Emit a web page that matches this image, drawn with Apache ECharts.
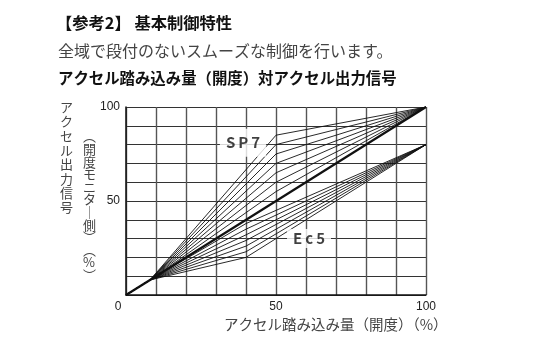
<!DOCTYPE html>
<html>
<head>
<meta charset="utf-8">
<script src="https://cdn.jsdelivr.net/npm/echarts@6/dist/echarts.min.js"></script>
<style>
  html, body { margin: 0; padding: 0; background: #fff; }
  #main { width: 537px; height: 341px; }
</style>
</head>
<body>
<div id="main"></div>
<script>
// 共通の立ち上がり点と終点
var fanPoint = [8, 8];
var linearEnd = [100, 100];

// SP7: 折れ点 x=50、終点 (100,100)
var sp7KneeX = 50;
var sp7KneeY = [55, 60, 65, 70, 75, 80, 85];
var sp7End = [100, 100];

// Ec5: 折れ点 x=40、終点 (100,80)
var ec5KneeX = 40;
var ec5KneeY = [20, 23, 26, 29, 32, 35, 38];
var ec5End = [100, 80];

// ラベル位置
var labelNames = ['S\u2009P\u20097', 'E\u2009c\u20095'];
var labelPos = [[39, 81], [61, 30]];

var tickLabels = [0, 50, 100];

var FONT = '"Noto Sans CJK JP", "Noto Sans", sans-serif';

function fnMakeLine(pts, w) {
  return {
    type: 'line',
    data: pts,
    showSymbol: false,
    silent: true,
    lineStyle: { color: '#111', width: w },
    z: 3
  };
}

var series = [];
// 直線 (0,0)-(100,100)
series.push(fnMakeLine([[0, 0], fanPoint, linearEnd], 2.2));
for (var i = 0; i < sp7KneeY.length; i++) {
  series.push(fnMakeLine([[0, 0], fanPoint, [sp7KneeX, sp7KneeY[i]], sp7End], 0.9));
}
for (var j = 0; j < ec5KneeY.length; j++) {
  series.push(fnMakeLine([[0, 0], fanPoint, [ec5KneeX, ec5KneeY[j]], ec5End], 0.9));
}

// SP7 / Ec5 の白抜きラベル
series.push({
  type: 'scatter',
  symbolSize: 1,
  itemStyle: { color: 'rgba(0,0,0,0)' },
  silent: true,
  z: 10,
  data: [
    { value: labelPos[0], label: { padding: [7, 6, 6, 6] } },
    { value: labelPos[1], label: { padding: [2, 6, 2, 6] } }
  ],
  label: {
    show: true,
    position: 'inside',
    formatter: function (p) { return labelNames[p.dataIndex]; },
    color: '#111',
    fontSize: 15,
    fontWeight: 'bold',
    fontFamily: FONT,
    backgroundColor: '#fff'
  }
});

var myChart = echarts.init(document.getElementById('main'));
var option = {
  animation: false,
  grid: { left: 126, right: 111, top: 107, bottom: 46 },
  xAxis: {
    type: 'value',
    min: 0, max: 100, interval: 10,
    axisLine: { show: true, lineStyle: { color: '#111', width: 1.5 } },
    axisTick: { show: false },
    splitLine: { show: true, lineStyle: { color: '#555', width: 1.4 } },
    axisLabel: {
      margin: 6,
      color: '#222',
      fontSize: 12,
      fontFamily: 'Liberation Sans, Arial, sans-serif',
      formatter: function (v) {
        if (v === 0) return '{z|0}';
        return tickLabels.indexOf(v) >= 0 ? String(v) : '';
      },
      rich: { z: { padding: [0, 16, 0, 0], fontSize: 12, color: '#222' } }
    }
  },
  yAxis: {
    type: 'value',
    min: 0, max: 100, interval: 10,
    axisLine: { show: true, lineStyle: { color: '#111', width: 1.5 } },
    axisTick: { show: false },
    splitLine: { show: true, lineStyle: { color: '#333', width: 1.2 } },
    axisLabel: {
      margin: 6,
      color: '#222',
      fontSize: 12,
      fontFamily: 'Liberation Sans, Arial, sans-serif',
      formatter: function (v) {
        return (v !== 0 && tickLabels.indexOf(v) >= 0) ? String(v) : '';
      }
    }
  },
  graphic: [
    { type: 'text', left: 56, top: 15,
      style: { text: '【参考2】 基本制御特性', fill: '#111', font: 'bold 16.3px ' + FONT } },
    { type: 'text', left: 58, top: 43,
      style: { text: '全域で段付のないスムーズな制御を行います。', fill: '#444', font: '16px ' + FONT } },
    { type: 'text', left: 58, top: 70,
      style: { text: 'アクセル踏み込み量（開度）対アクセル出力信号', fill: '#111', font: 'bold 15.4px ' + FONT } },
    { type: 'text', left: 60, top: 100,
      style: { text: 'アクセル出力信号'.split('').join('\n'), fill: '#444', font: '13px ' + FONT, lineHeight: 14.3 } },
    { type: 'text', left: 83, top: 130,
      style: { text: ['︵', '開', '度', 'モ', 'ニ', 'タ', '│', '側', '︶', '︵', '%', '︶'].join('\n'), fill: '#444', font: '13px ' + FONT, lineHeight: 12.6 } },
    { type: 'text', left: 224, top: 317,
      style: { text: 'アクセル踏み込み量（開度）（%）', fill: '#444', font: '14.5px ' + FONT } }
  ],
  series: series
};
myChart.setOption(option);
</script>
</body>
</html>
